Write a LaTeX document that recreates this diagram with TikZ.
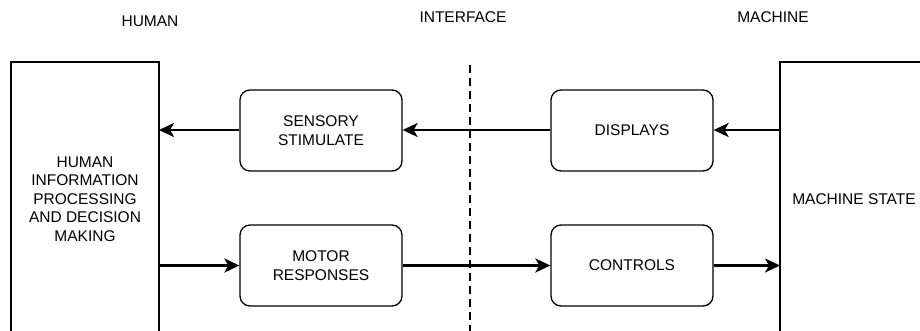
\documentclass[tikz,border=0pt]{standalone}
\usepackage{fontspec}
\setmainfont{Liberation Sans}
\usetikzlibrary{arrows.meta}
\begin{document}
\begin{tikzpicture}[x=1pt,y=-1pt,
  lbl/.style={font=\fontsize{15.5}{18.5}\selectfont, align=center, inner sep=0pt},
  bigbox/.style={draw, line width=1.3pt, inner sep=0pt},
  rbox/.style={draw, line width=1.3pt, rounded corners=10pt, minimum width=162pt, minimum height=81pt, inner sep=0pt, font=\fontsize{15.5}{18.5}\selectfont, align=center},
  conn/.style={line width=2.5pt, -{Stealth[length=15pt,width=14pt,inset=4pt]}}
]
\useasboundingbox (0,0) rectangle (920,330);
\path[clip] (0,0) rectangle (920,330);
% big boxes
\draw[line width=1.3pt] (11,345) -- (11,62) -- (159,62) -- (159,345);
\draw[line width=1.3pt] (780,345) -- (780,62) -- (930,62);
\coordinate (L1) at (159,130);
\coordinate (L2) at (159,265.5);
\coordinate (R1) at (780,130);
\coordinate (R2) at (780,265.5);
\node[lbl] (hip) at (85,199) {HUMAN\\INFORMATION\\PROCESSING\\AND DECISION\\MAKING};
\node[lbl] (ms) at (854,199) {MACHINE STATE};
% headings
\node[lbl] (h) at (150,21) {HUMAN};
\node[lbl] (i) at (463,17) {INTERFACE};
\node[lbl] (m) at (773,17) {MACHINE};
% dashed line
\coordinate (d1) at (470,65);
\coordinate (d2) at (470,335);
\draw[line width=2.5pt, dash pattern=on 8pt off 5pt] (d1) -- (d2);
% rounded boxes
\node[rbox] (ss) at (321,130.5) {SENSORY\\STIMULATE};
\node[rbox] (mr) at (321,265.5) {MOTOR\\RESPONSES};
\node[rbox] (dp) at (632,130.5) {DISPLAYS};
\node[rbox] (ct) at (632,265.5) {CONTROLS};
% connectors
\draw[conn] (R1) -- (dp.east |- R1);
\draw[conn] (dp.west |- R1) -- (ss.east |- R1);
\draw[conn] (ss.west |- L1) -- (L1);
\draw[conn] (L2) -- (mr.west |- L2);
\draw[conn] (mr.east |- L2) -- (ct.west |- L2);
\draw[conn] (ct.east |- R2) -- (R2);
\end{tikzpicture}
\end{document}
